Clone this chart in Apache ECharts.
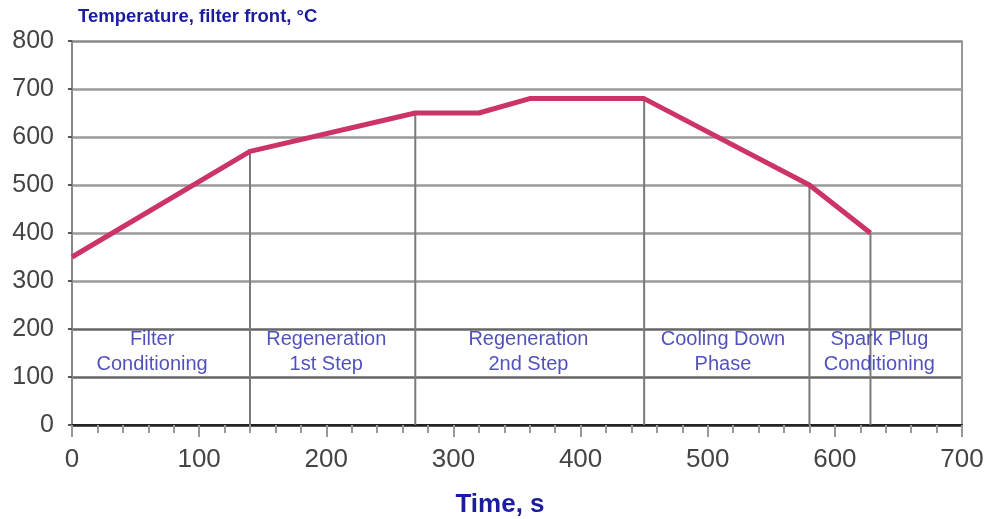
<!DOCTYPE html>
<html><head><meta charset="utf-8">
<script src="https://cdn.jsdelivr.net/npm/echarts@6/dist/echarts.min.js"></script>
<style>html,body{margin:0;padding:0;background:#fff}#c{width:986px;height:519px}</style>
</head><body><div id="c"></div>
<script>
const times = [0, 140, 270, 320, 360, 450, 580, 628];
const temps = [350, 570, 650, 650, 680, 680, 500, 400];
const boundaryIdx = [1, 2, 5, 6, 7];
const phaseNames = ['Filter\nConditioning', 'Regeneration\n1st Step', 'Regeneration\n2nd Step', 'Cooling Down\nPhase', 'Spark Plug\nConditioning'];
const phaseX = [63, 200, 359, 512, 635];
const phaseY = 153;
const xTicks = [0, 100, 200, 300, 400, 500, 600, 700];
const yTicks = [0, 100, 200, 300, 400, 500, 600, 700, 800];

const chart = echarts.init(document.getElementById('c'));
const font = '"Liberation Sans", Arial, sans-serif';
const series = [];
boundaryIdx.forEach(i => {
  series.push({type: 'line', data: [[times[i], 0], [times[i], temps[i]]], symbol: 'none',
    lineStyle: {color: '#7a7a7a', width: 2}, silent: true, z: 3});
});
series.push({type: 'line', data: times.map((t, i) => [t, temps[i]]), symbol: 'none',
  lineStyle: {color: '#cc3366', width: 5}, z: 5});
series.push({type: 'scatter', symbolSize: 0, data: phaseX.map((x, i) => ({value: [x, phaseY], name: phaseNames[i]})),
  label: {show: true, position: 'inside', formatter: p => p.name, color: '#2626ae', fontFamily: font, fontSize: 20, lineHeight: 25, align: 'center'}, z: 6});

chart.setOption({
  animation: false,
  title: {text: 'Temperature, filter front, °C', left: 73, top: 2,
    textStyle: {color: '#1c1ca0', fontFamily: font, fontSize: 18.5, fontWeight: 'bold'}},
  grid: {left: 72, right: 24, top: 41, bottom: 94, containLabel: false, outerBoundsMode: 'none'},
  xAxis: {type: 'value', min: 0, max: 700, interval: 100,
    name: 'Time, s', nameLocation: 'middle', nameGap: 67,
    nameTextStyle: {color: '#1c1ca0', fontFamily: font, fontSize: 26, fontWeight: 'bold', padding: [0, 34, 0, 0]},
    axisLine: {onZero: false, lineStyle: {color: '#222', width: 2}},
    axisTick: {show: true, length: 12, lineStyle: {color: '#999', width: 2}},
    minorTick: {show: true, splitNumber: 5, length: 8, lineStyle: {color: '#999', width: 2}},
    axisLabel: {color: '#444', fontFamily: font, fontSize: 26, margin: 22, formatter: v => xTicks.includes(v) ? String(v) : ''},
    splitLine: {show: false}},
  yAxis: [{type: 'value', min: 0, max: 800, interval: 100,
    axisLine: {show: true, lineStyle: {color: '#888', width: 2}},
    axisTick: {show: true, length: 4, lineStyle: {color: '#555', width: 2}},
    axisLabel: {color: '#444', fontFamily: font, fontSize: 25, margin: 18, formatter: v => yTicks.includes(v) ? String(v) : ''},
    splitLine: {show: true, lineStyle: {color: ['#222', '#666', '#666', '#9a9a9a', '#9a9a9a', '#9a9a9a', '#9a9a9a', '#9a9a9a', '#8a8a8a'], width: 2.5}}},
  {type: 'value', min: 0, max: 800, position: 'right', axisLine: {show: true, lineStyle: {color: '#999', width: 2}},
    axisTick: {show: false}, axisLabel: {show: false}, splitLine: {show: false}}],
  series: series
});
</script></body></html>
